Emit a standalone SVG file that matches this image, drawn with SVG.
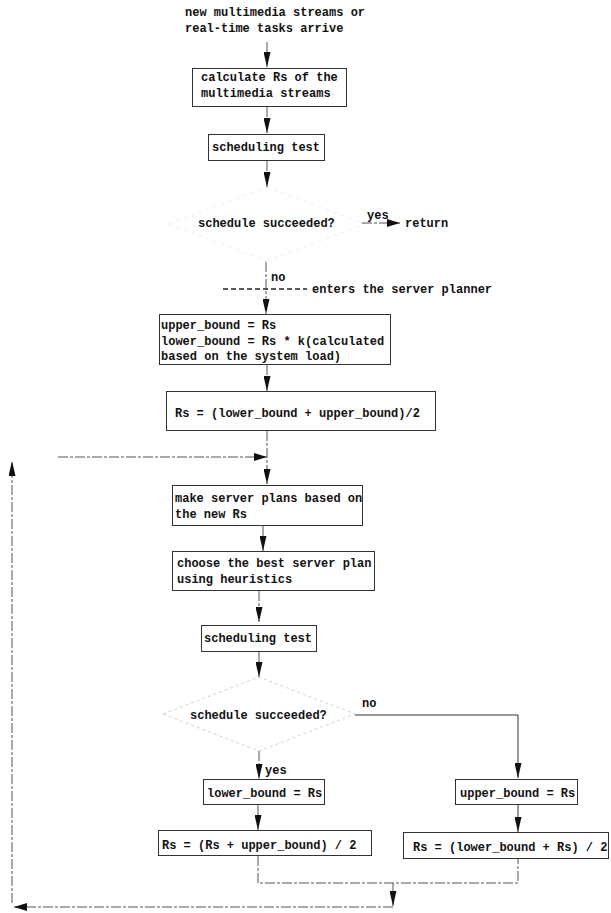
<svg xmlns="http://www.w3.org/2000/svg" width="611" height="913" viewBox="0 0 611 913">
<style>
text{font-family:"Liberation Mono","DejaVu Sans Mono",monospace;font-size:12px;font-weight:bold;fill:#111}
.box{fill:#fff;stroke:#333;stroke-width:1}
.ln{fill:none;stroke:#555;stroke-width:1;stroke-dasharray:10 2 3 2}
.sl{fill:none;stroke:#333;stroke-width:1}
.dia{fill:none;stroke:#d0d0d0;stroke-width:1;stroke-dasharray:3 3}
.dia1{fill:none;stroke:#ececec;stroke-width:1;stroke-dasharray:3 5}
</style>
<defs>
<marker id="ah" markerUnits="userSpaceOnUse" markerWidth="15" markerHeight="7" refX="15" refY="3.5" orient="auto">
<path d="M0,0 L15,3.5 L0,7 z" fill="#111"/>
</marker>
<marker id="ahs" markerUnits="userSpaceOnUse" markerWidth="13" markerHeight="8" refX="13" refY="4" orient="auto">
<path d="M0,0 L13,4 L0,8 z" fill="#111"/>
</marker>
</defs>
<g id="start"><text x="185" y="16">new multimedia streams or</text><text x="185" y="32">real-time tasks arrive</text></g>
<g id="calc"><rect class="box" x="192.5" y="68.5" width="154" height="38"/><text x="201" y="81">calculate Rs of the</text><text x="201" y="97">multimedia streams</text></g>
<g id="test1"><rect class="box" x="208.5" y="134.5" width="116" height="26"/><text x="212" y="151">scheduling test</text></g>
<g id="dec1"><polygon class="dia1" points="169,224 267,187 365,224 267,261"/><text x="198" y="227">schedule succeeded?</text></g>
<g id="ret"><text x="405" y="227">return</text></g>
<g id="planner"><text x="312" y="293">enters the server planner</text></g>
<g id="bounds"><rect class="box" x="159.5" y="314.5" width="231" height="50"/><text x="161" y="329">upper_bound = Rs</text><text x="161" y="345">lower_bound = Rs * k(calculated</text><text x="161" y="360">based on the system load)</text></g>
<g id="rs1"><rect class="box" x="166.5" y="391.5" width="269" height="39"/><text x="175" y="417">Rs = (lower_bound + upper_bound)/2</text></g>
<g id="plans"><rect class="box" x="172.5" y="485.5" width="190" height="40"/><text x="175" y="502">make server plans based on</text><text x="175" y="518">the new Rs</text></g>
<g id="choose"><rect class="box" x="172.5" y="551.5" width="202" height="39"/><text x="177" y="567">choose the best server plan</text><text x="177" y="583">using heuristics</text></g>
<g id="test2"><rect class="box" x="201.5" y="625.5" width="115" height="26"/><text x="204" y="642">scheduling test</text></g>
<g id="dec2"><polygon class="dia" points="163,714 259,677 355,714 259,751"/><text x="190" y="719">schedule succeeded?</text></g>
<g id="lb"><rect class="box" x="203.5" y="779.5" width="121" height="25"/><text x="207" y="797">lower_bound = Rs</text></g>
<g id="ub"><rect class="box" x="455.5" y="779.5" width="122" height="25"/><text x="460" y="797">upper_bound = Rs</text></g>
<g id="rs2"><rect class="box" x="158.5" y="830.5" width="213" height="25"/><text x="162" y="849">Rs = (Rs + upper_bound) / 2</text></g>
<g id="rs3"><rect class="box" x="403.5" y="832.5" width="205" height="26"/><text x="413" y="851">Rs = (lower_bound + Rs) / 2</text></g>
<g id="connectors">
<line class="ln" x1="267" y1="42" x2="267" y2="67" marker-end="url(#ah)"/>
<line class="ln" x1="267" y1="107" x2="267" y2="133" marker-end="url(#ah)"/>
<line class="ln" x1="267" y1="161" x2="267" y2="187" marker-end="url(#ah)"/>
<line class="ln" x1="362" y1="223" x2="400" y2="223" marker-end="url(#ahs)"/>
<text x="367" y="219">yes</text>
<line class="ln" x1="266" y1="262" x2="266" y2="314" marker-end="url(#ah)"/>
<text x="271" y="281">no</text>
<line x1="223" y1="289" x2="307" y2="289" stroke="#222" stroke-width="1.6" stroke-dasharray="5 3"/>
<line class="ln" x1="267" y1="365" x2="267" y2="391" marker-end="url(#ah)"/>
<line class="ln" x1="267" y1="431" x2="267" y2="484" marker-end="url(#ah)"/>
<line class="ln" x1="58" y1="457" x2="267" y2="457" marker-end="url(#ahs)"/>
<line class="ln" x1="263" y1="526" x2="263" y2="551" marker-end="url(#ah)"/>
<line class="ln" x1="259" y1="591" x2="259" y2="622" marker-end="url(#ah)"/>
<line class="ln" x1="259" y1="652" x2="259" y2="677" marker-end="url(#ah)"/>
<polyline class="sl" points="355,715 518,715 518,778" marker-end="url(#ah)"/>
<text x="362" y="707">no</text>
<line class="ln" x1="259" y1="751" x2="259" y2="779" marker-end="url(#ah)"/>
<text x="265" y="774">yes</text>
<line class="ln" x1="258" y1="805" x2="258" y2="830" marker-end="url(#ah)"/>
<line class="sl" x1="518" y1="805" x2="518" y2="832" marker-end="url(#ah)"/>
<polyline class="ln" points="258,856 258,883 518,883 518,859"/>
<line class="ln" x1="393" y1="883" x2="393" y2="906" marker-end="url(#ah)"/>
<line class="ln" x1="393" y1="907" x2="14" y2="907" marker-end="url(#ahs)"/>
<line class="ln" x1="12" y1="903" x2="12" y2="461" marker-end="url(#ah)"/>
</g>
</svg>
